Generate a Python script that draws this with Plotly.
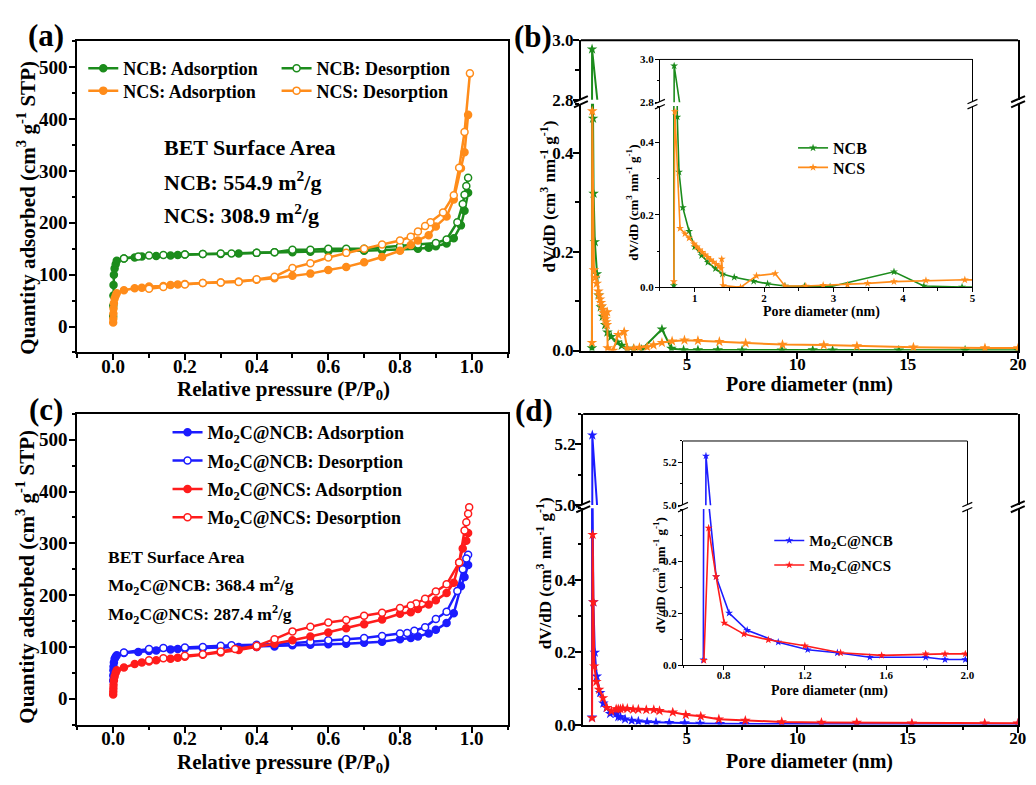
import plotly.graph_objects as go

W, H = 1036, 785
def px(x): return x / W
def py(y): return 1 - y / H

# ---------------- data ----------------
# (a) N2 isotherms
ncb_ads_p = [0.0, 0.0003, 0.0006, 0.001, 0.002, 0.004, 0.007, 0.01, 0.03, 0.06, 0.08, 0.12, 0.16, 0.18, 0.2, 0.25, 0.3, 0.35, 0.4, 0.45, 0.5, 0.55, 0.6, 0.65, 0.7, 0.75, 0.8, 0.85, 0.88, 0.9, 0.93, 0.95, 0.97, 0.98, 0.99]
ncb_ads_q = [20, 40, 60, 80, 100, 112, 120, 127, 131, 133, 135, 136, 137, 138, 139, 140, 140, 141, 142, 143, 143, 144, 145, 146, 146, 147, 148, 150, 152, 155, 160, 170, 195, 223, 258]
ncb_des_p = [0.99, 0.985, 0.98, 0.975, 0.96, 0.93, 0.9, 0.85, 0.8, 0.75, 0.7, 0.65, 0.6, 0.55, 0.5, 0.45, 0.4, 0.33, 0.3, 0.25, 0.2, 0.14, 0.1, 0.07, 0.03]
ncb_des_q = [287, 271, 254, 236, 201, 168, 161, 158, 155, 152, 150, 150, 150, 148, 148, 143, 142, 141, 141, 140, 139, 138, 137, 135, 131]
ncs_ads_p = [0.0, 0.0003, 0.0006, 0.001, 0.002, 0.004, 0.007, 0.01, 0.03, 0.06, 0.08, 0.1, 0.14, 0.16, 0.18, 0.2, 0.25, 0.3, 0.35, 0.4, 0.45, 0.5, 0.55, 0.6, 0.65, 0.7, 0.75, 0.8, 0.83, 0.85, 0.88, 0.9, 0.93, 0.95, 0.97, 0.98, 0.99]
ncs_ads_q = [8, 15, 25, 35, 45, 54, 60, 64, 70, 74, 75, 77, 78, 80, 81, 82, 84, 85, 87, 90, 93, 98, 102, 109, 115, 124, 134, 146, 157, 166, 176, 193, 212, 245, 305, 336, 408]
ncs_des_p = [0.995, 0.98, 0.965, 0.95, 0.92, 0.885, 0.87, 0.85, 0.83, 0.8, 0.75, 0.7, 0.65, 0.6, 0.55, 0.5, 0.45, 0.4, 0.35, 0.3, 0.25, 0.2, 0.14, 0.1]
ncs_des_q = [488, 375, 306, 253, 220, 201, 194, 183, 173, 166, 158, 150, 142, 133, 122, 113, 96, 91, 86, 85, 84, 81, 76, 73]

# (c) N2 isotherms
mncb_ads_p = [0.0, 0.0003, 0.0006, 0.001, 0.002, 0.004, 0.007, 0.01, 0.03, 0.07, 0.1, 0.12, 0.16, 0.18, 0.2, 0.25, 0.3, 0.35, 0.4, 0.45, 0.5, 0.55, 0.6, 0.65, 0.7, 0.75, 0.8, 0.83, 0.85, 0.88, 0.9, 0.93, 0.95, 0.97, 0.98, 0.99]
mncb_ads_q = [35, 45, 55, 62, 70, 77, 81, 84, 88, 90, 92, 93, 95, 96, 97, 98, 99, 100, 100, 101, 103, 104, 105, 106, 108, 110, 115, 117, 120, 126, 133, 146, 165, 217, 235, 258]
mncb_des_p = [0.99, 0.985, 0.975, 0.96, 0.93, 0.9, 0.87, 0.84, 0.82, 0.8, 0.75, 0.7, 0.65, 0.6, 0.55, 0.5, 0.45, 0.4, 0.33, 0.3, 0.25, 0.2, 0.14, 0.1, 0.03]
mncb_des_q = [278, 271, 250, 208, 168, 154, 138, 131, 127, 126, 121, 117, 115, 113, 110, 107, 105, 104, 103, 102, 100, 99, 98, 96, 89]
mncs_ads_p = [0.0, 0.0003, 0.0006, 0.001, 0.002, 0.004, 0.007, 0.01, 0.03, 0.06, 0.08, 0.1, 0.12, 0.16, 0.18, 0.2, 0.25, 0.3, 0.35, 0.4, 0.45, 0.5, 0.55, 0.6, 0.65, 0.7, 0.75, 0.8, 0.83, 0.85, 0.88, 0.9, 0.93, 0.95, 0.965, 0.975, 0.985, 0.99]
mncs_ads_q = [8, 14, 20, 27, 35, 43, 50, 55, 60, 67, 70, 72, 74, 77, 79, 81, 85, 89, 94, 100, 106, 113, 120, 128, 136, 144, 153, 164, 167, 173, 182, 190, 204, 224, 263, 290, 305, 320]
mncs_des_p = [0.993, 0.99, 0.985, 0.98, 0.965, 0.93, 0.9, 0.87, 0.845, 0.83, 0.8, 0.75, 0.7, 0.65, 0.6, 0.55, 0.5, 0.45, 0.4, 0.34, 0.3, 0.25, 0.2, 0.14, 0.1]
mncs_des_q = [370, 357, 341, 325, 263, 221, 207, 193, 184, 180, 175, 166, 160, 152, 147, 139, 130, 115, 102, 96, 91, 86, 83, 78, 74]

# (b) pore size distributions
ncb_d = [0.70, 0.705, 0.75, 0.775, 0.83, 0.92, 1.0, 1.1, 1.19, 1.3, 1.4, 1.57, 1.85, 2.05, 2.3, 2.58, 2.95, 3.87, 4.30, 4.85, 5.5, 6.4, 7.5, 9.3, 10.7, 11.6, 14.6, 17.6, 20.0]
ncb_v = [0.005, 2.97, 0.47, 0.318, 0.22, 0.155, 0.112, 0.088, 0.069, 0.052, 0.037, 0.028, 0.017, 0.010, 0.004, 0.003, 0.002, 0.043, 0.004, 0.001, 0.001, 0.001, 0.0005, 0.0005, 0.001, 0.0005, 0.0005, 0.0005, 0.0005]
ncs_d = [0.70, 0.715, 0.79, 0.86, 0.92, 0.99, 1.03, 1.07, 1.11, 1.15, 1.19, 1.23, 1.27, 1.31, 1.35, 1.38, 1.39, 1.41, 1.66, 1.89, 2.16, 2.30, 2.6, 2.85, 3.2, 3.49, 3.87, 4.33, 4.89, 5.5, 6.47, 7.66, 9.33, 11.2, 12.7, 15.26, 18.5, 20.0]
ncs_v = [0.016, 0.485, 0.163, 0.148, 0.136, 0.12, 0.112, 0.104, 0.097, 0.09, 0.083, 0.076, 0.07, 0.064, 0.058, 0.052, 0.078, 0.005, 0.0, 0.032, 0.038, 0.004, 0.004, 0.006, 0.007, 0.011, 0.016, 0.019, 0.021, 0.02, 0.018, 0.015, 0.012, 0.011, 0.009, 0.0066, 0.005, 0.005]

# (d) pore size distributions
mncb_d = [0.700, 0.713, 0.727, 0.763, 0.827, 0.916, 1.069, 1.214, 1.36, 1.52, 1.795, 1.89, 1.99, 2.2, 2.5, 2.8, 3.2, 3.6, 4.2, 4.9, 5.6, 6.5, 7.6, 9.3, 11.1, 12.7, 15.2, 18.5, 20.0]
mncb_v = [0.02, 5.23, 0.62, 0.34, 0.20, 0.134, 0.088, 0.059, 0.047, 0.030, 0.030, 0.021, 0.021, 0.015, 0.011, 0.009, 0.007, 0.006, 0.005, 0.004, 0.003, 0.002, 0.002, 0.0015, 0.001, 0.001, 0.001, 0.001, 0.001]
mncs_d = [0.703, 0.726, 0.763, 0.803, 0.90, 1.02, 1.2, 1.376, 1.578, 1.795, 1.89, 1.99, 2.1, 2.3, 2.56, 2.8, 3.16, 3.5, 3.76, 4.36, 4.95, 5.63, 6.45, 7.65, 9.3, 11.1, 12.7, 15.2, 18.5, 20.0]
mncs_v = [0.018, 0.527, 0.34, 0.162, 0.119, 0.097, 0.074, 0.047, 0.037, 0.043, 0.043, 0.043, 0.045, 0.044, 0.042, 0.042, 0.041, 0.041, 0.038, 0.034, 0.027, 0.023, 0.015, 0.011, 0.0073, 0.0055, 0.0055, 0.0036, 0.0036, 0.0036]

iso_ticks = [0.0, 0.2, 0.4, 0.6, 0.8, 1.0]
iso_ticktext = ["0.0", "0.2", "0.4", "0.6", "0.8", "1.0"]
q_ticks = [0, 100, 200, 300, 400, 500]

# ---------------- style ----------------
FONT = "Liberation Serif, Times New Roman, serif"
GREEN = "#1c8c1c"
ORANGE = "#ff8c1a"
BLUE = "#1c1cff"
RED = "#ff1c1c"

fig = go.Figure()

def iso(x, y, color, filled, name, xa, ya, legend, group):
    fig.add_trace(go.Scatter(
        x=x, y=y, mode="lines+markers", name=name, xaxis=xa, yaxis=ya,
        legend=legend, legendgroup=group,
        line=dict(color=color, width=2.5),
        marker=dict(symbol="circle", size=7, color=color if filled else "white",
                    line=dict(color=color, width=1.5))))

# (a)
iso(ncb_ads_p, ncb_ads_q, GREEN, True, "NCB: Adsorption", "x", "y", "legend", "a1")
iso(ncb_des_p, ncb_des_q, GREEN, False, "NCB: Desorption", "x", "y", "legend2", "a2")
iso(ncs_ads_p, ncs_ads_q, ORANGE, True, "NCS: Adsorption", "x", "y", "legend3", "a3")
iso(ncs_des_p, ncs_des_q, ORANGE, False, "NCS: Desorption", "x", "y", "legend4", "a4")
# (c)
iso(mncb_ads_p, mncb_ads_q, BLUE, True, "Mo<sub>2</sub>C@NCB: Adsorption", "x2", "y2", "legend5", "c1")
iso(mncb_des_p, mncb_des_q, BLUE, False, "Mo<sub>2</sub>C@NCB: Desorption", "x2", "y2", "legend5", "c2")
iso(mncs_ads_p, mncs_ads_q, RED, True, "Mo<sub>2</sub>C@NCS: Adsorption", "x2", "y2", "legend5", "c3")
iso(mncs_des_p, mncs_des_q, RED, False, "Mo<sub>2</sub>C@NCS: Desorption", "x2", "y2", "legend5", "c4")

def psd(x, y, color, name, pairs, legend):
    for i, (xa, ya) in enumerate(pairs):
        show = (i == len(pairs) - 1)
        inset = i >= 2
        fig.add_trace(go.Scatter(
            x=x, y=y, mode="lines+markers", name=name, xaxis=xa, yaxis=ya,
            legend=legend, showlegend=show, legendgroup=name,
            line=dict(color=color, width=1.6 if inset else 2),
            marker=dict(symbol="star", size=6 if inset else 8, color=color,
                        line=dict(width=0))))

# (b)
psd(ncb_d, ncb_v, GREEN, "NCB", [("x3", "y3"), ("x3", "y4"), ("x4", "y6"), ("x4", "y5")], "legend6")
psd(ncs_d, ncs_v, ORANGE, "NCS", [("x3", "y3"), ("x3", "y4"), ("x4", "y6"), ("x4", "y5")], "legend7")
# (d)
psd(mncb_d, mncb_v, BLUE, "Mo<sub>2</sub>C@NCB", [("x5", "y7"), ("x5", "y8"), ("x6", "y10"), ("x6", "y9")], "legend8")
psd(mncs_d, mncs_v, RED, "Mo<sub>2</sub>C@NCS", [("x5", "y7"), ("x5", "y8"), ("x6", "y10"), ("x6", "y9")], "legend8")

# ---------------- axes ----------------
def axis(domain, anchor, rng, tickvals, ticktext, minor_dtick, fsize, lw=2, tl=6,
         mirror=True, standoff=0):
    return dict(domain=domain, anchor=anchor, range=rng, tickmode="array", tickvals=tickvals,
                ticktext=ticktext, showgrid=False, zeroline=False, showline=True,
                linecolor="black", linewidth=lw, mirror=mirror, ticks="outside", ticklen=tl,
                tickwidth=lw, tickcolor="black", ticklabelstandoff=standoff,
                tickfont=dict(family=FONT, size=fsize, color="black", weight="bold"),
                minor=dict(ticks="outside", dtick=minor_dtick, tick0=0, ticklen=tl * 0.6,
                           tickwidth=lw * 0.8, tickcolor="black", showgrid=False))

xa_dom_a = [px(78), px(512)]
lay = dict(
    width=W, height=H, margin=dict(l=0, r=0, t=0, b=0),
    plot_bgcolor="white", paper_bgcolor="white", showlegend=True,
    font=dict(family=FONT, color="black"),
    # (a)
    xaxis=axis(xa_dom_a, "y", [-0.1, 1.1], iso_ticks, iso_ticktext, 0.1, 19, standoff=-10),
    yaxis=axis([py(352), py(33)], "x", [-50, 550], q_ticks, [str(v) for v in q_ticks], 50, 19, standoff=-2),
    # (c)
    xaxis2=axis(xa_dom_a, "y2", [-0.1, 1.1], iso_ticks, iso_ticktext, 0.1, 19, standoff=-10),
    yaxis2=axis([py(733.3), py(415)], "x2", [-50, 550], q_ticks, [str(v) for v in q_ticks], 50, 19, standoff=-2),
    # (b) main
    xaxis3=axis([px(586), px(1027)], "y3", [0.2, 20], [5, 10, 15, 20], ["5", "10", "15", "20"], 2.5, 17, mirror=False, standoff=-9),
    yaxis3=axis([py(350), py(97)], "x3", [0, 0.5], [0, 0.2, 0.4], ["0.0", "0.2", "0.4"], 0.1, 17, standoff=-4),
    yaxis4=axis([py(93), py(32)], "x3", [2.8, 3.0], [2.8, 3.0], ["2.8", "3.0"], 0.1, 17, standoff=-4),
    # (b) inset
    xaxis4=axis([px(665.7), px(981)], "y5", [0.5, 5], [1, 2, 3, 4, 5], ["1", "2", "3", "4", "5"], 0.5, 11, lw=1, tl=4, mirror=False, standoff=-4),
    yaxis5=axis([py(285.3), py(99.5)], "x4", [0, 0.5], [0, 0.2, 0.4], ["0.0", "0.2", "0.4"], 0.1, 11, lw=1, tl=4, standoff=-1),
    yaxis6=axis([py(95.5), py(51.7)], "x4", [2.8, 3.0], [2.8, 3.0], ["2.8", "3.0"], 0.1, 11, lw=1, tl=4, standoff=-1),
    # (d) main
    xaxis5=axis([px(588.3), px(1026.7)], "y7", [0.3, 20], [5, 10, 15, 20], ["5", "10", "15", "20"], 2.5, 17, mirror=False, standoff=-9),
    yaxis7=axis([py(733.3), py(511.7)], "x5", [0, 0.6], [0, 0.2, 0.4], ["0.0", "0.2", "0.4"], 0.1, 17, standoff=-4),
    yaxis8=axis([py(508.3), py(415)], "x5", [5.0, 5.3], [5.0, 5.2], ["5.0", "5.2"], 0.1, 17, standoff=-4),
    # (d) inset
    xaxis6=axis([px(689), px(975.8)], "y9", [0.6, 2.0], [0.8, 1.2, 1.6, 2.0], ["0.8", "1.2", "1.6", "2.0"], 0.2, 11, lw=1, tl=4, mirror=False, standoff=-4),
    yaxis9=axis([py(672.3), py(512.5)], "x6", [0, 0.6], [0, 0.2, 0.4], ["0.0", "0.2", "0.4"], 0.1, 11, lw=1, tl=4, standoff=-1),
    yaxis10=axis([py(508.5), py(442.7)], "x6", [5.0, 5.3], [5.0, 5.2], ["5.0", "5.2"], 0.1, 11, lw=1, tl=4, standoff=-1),
)

def leg(x, ytop, size, gap=0):
    return dict(bgcolor="rgba(0,0,0,0)", borderwidth=0, xanchor="left", yanchor="top",
                traceorder="grouped", itemwidth=30, tracegroupgap=gap, x=px(x), y=py(ytop),
                font=dict(family=FONT, size=size, color="black", weight="bold"))

lay["legend"] = leg(84, 42, 18)     # NCB ads
lay["legend2"] = leg(279, 42, 18)   # NCB des
lay["legend3"] = leg(84, 65, 18)    # NCS ads
lay["legend4"] = leg(279, 65, 18)   # NCS des
lay["legend5"] = leg(169, 415, 18, gap=2)
lay["legend6"] = leg(800, 125, 16)
lay["legend7"] = leg(800, 145, 16)
lay["legend8"] = leg(776, 528, 15, gap=2)
fig.update_layout(**lay)

# ---------------- text ----------------
def txt(x, y, s, size, angle=0, xanchor="center"):
    fig.add_annotation(x=px(x), y=py(y), xref="paper", yref="paper", text=s, showarrow=False,
                       textangle=angle, xanchor=xanchor, yanchor="middle",
                       font=dict(family=FONT, size=size, color="black", weight="bold"))

txt(46, 27, "(a)", 31)
txt(538, 28, "(b)", 31)
txt(46, 410, "(c)", 31)
txt(539, 411, "(d)", 31)

qtitle = "Quantity adsorbed (cm<sup>3</sup> g<sup>-1</sup> STP)"
ptitle = "Relative pressure (P/P<sub>0</sub>)"
dvtitle = "dV/dD (cm<sup>3</sup> nm<sup>-1</sup> g<sup>-1</sup>)"
dtitle = "Pore diameter (nm)"
txt(26, 204, qtitle, 21, -90)
txt(26, 582, qtitle, 21, -90)
txt(286, 390, ptitle, 21)
txt(286, 773, ptitle, 21)
txt(553, 192, dvtitle, 17, -90)
txt(549, 578, dvtitle, 17, -90)
txt(817, 385, dtitle, 20)
txt(817, 771, dtitle, 20)
txt(638, 198, dvtitle, 13, -90)
txt(665, 580, dvtitle, 13, -90)
txt(829, 311, dtitle, 14)
txt(837, 699, dtitle, 14)

txt(163, 142, "BET Surface Area", 22, xanchor="left")
txt(163, 176, "NCB: 554.9 m<sup>2</sup>/g", 22, xanchor="left")
txt(163, 210, "NCS: 308.9 m<sup>2</sup>/g", 22, xanchor="left")
txt(107, 562, "BET Surface Area", 17.5, xanchor="left")
txt(107, 591, "Mo<sub>2</sub>C@NCB: 368.4 m<sup>2</sup>/g", 17.5, xanchor="left")
txt(107, 621, "Mo<sub>2</sub>C@NCS: 287.4 m<sup>2</sup>/g", 17.5, xanchor="left")

# ---------------- frame tops and axis-break marks ----------------
def hline(x0, x1, y, w):
    fig.add_shape(type="line", xref="paper", yref="paper", x0=px(x0), x1=px(x1), y0=py(y), y1=py(y),
                  line=dict(color="black", width=w))

hline(586, 1027, 32, 2)
hline(588.3, 1026.7, 415, 2)
hline(665.7, 981, 51.7, 1)
hline(689, 975.8, 442.7, 1)

def brk(xs, yc, half, w):
    for xc in xs:
        for d in (-2.6, 2.6):
            fig.add_shape(type="line", xref="paper", yref="paper",
                          x0=px(xc - half), y0=py(yc + d + half * 0.45),
                          x1=px(xc + half), y1=py(yc + d - half * 0.45),
                          line=dict(color="black", width=w))

brk([586, 1027], 95, 7, 2)
brk([588.3, 1026.7], 510, 7, 2)
brk([665.7, 981], 97.5, 5, 1.2)
brk([689, 975.8], 510.5, 5, 1.2)

fig.write_html("out.html")
